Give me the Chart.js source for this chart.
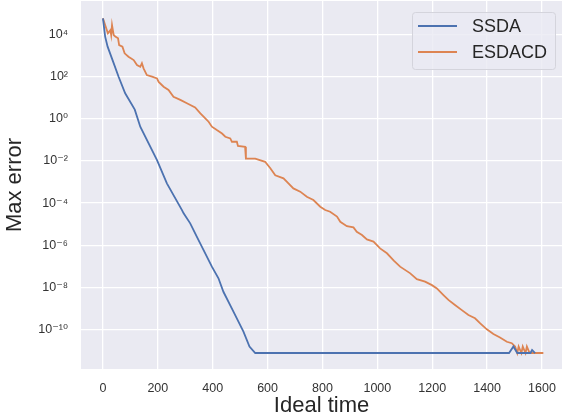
<!DOCTYPE html>
<html>
<head>
<meta charset="utf-8">
<script src="https://cdn.jsdelivr.net/npm/chart.js@4.4.0/dist/chart.umd.min.js"></script>
<style>
  html, body { margin: 0; padding: 0; background: #fff; }
  #wrap { width: 562px; height: 419px; }
</style>
</head>
<body>
<div id="wrap"><canvas id="myChart" width="562" height="419"></canvas></div>
<script>
// SSDA curve
const ssdaTime = [0, 8, 17, 39, 57, 81, 116, 136, 197, 233, 288, 294, 318, 342, 397, 421, 439, 476, 512, 534, 555,
    1480, 1496, 1510, 1558, 1564, 1575];
const ssdaErr = [5.75e4, 7.8e3, 2.6e3, 4.3e2, 98, 16, 2.7, 0.42, 1.1e-2, 8.7e-4, 4.7e-5, 3.3e-5, 1.1e-5, 2.6e-6,
    9.8e-8, 2.75e-8, 6.3e-9, 7.1e-10, 8.1e-11, 1.6e-11, 7.9e-12,
    7.9e-12, 1.6e-11, 7.9e-12, 7.9e-12, 1.1e-11, 7.9e-12];

// ESDACD curve
const esdacdTime = [0, 8, 18, 27, 30, 33, 39, 45, 55, 59, 71, 79, 93, 112, 124, 136, 142, 148, 160, 179, 197, 203,
    221, 239, 257, 282, 306, 336, 355, 373, 385, 397, 415, 434, 446, 464, 470, 488, 492, 518, 521, 555, 591, 610,
    628, 658, 676, 694, 719, 743, 767, 792, 810, 828, 853, 865, 889, 913, 925, 944, 962, 986, 1010, 1035, 1060,
    1083, 1120, 1144, 1174, 1199, 1217, 1241, 1259, 1283, 1308, 1332, 1356, 1375, 1399, 1423, 1447, 1472, 1490,
    1502, 1510, 1515, 1525, 1530, 1540, 1545, 1555, 1605];
const esdacdErr = [5.75e4, 2.75e4, 1.12e4, 1.58e4, 9.3e3, 2.75e4, 9.3e3, 7.8e3, 6.5e3, 3.1e3, 2.6e3, 1.26e3, 870,
    600, 350, 290, 430, 245, 117, 98, 81, 56, 33, 23, 11, 7.8, 5.4, 3.4, 1.8, 1.05, 0.72, 0.42, 0.29, 0.20, 0.14,
    0.117, 0.081, 0.081, 0.051, 0.047, 0.013, 0.013, 9.1e-3, 4.5e-3, 2.1e-3, 1.5e-3, 8.7e-4, 5.0e-4, 3.5e-4,
    2.0e-4, 1.4e-4, 6.8e-5, 4.7e-5, 3.9e-5, 2.3e-5, 1.3e-5, 8.1e-6, 7.1e-6, 4.4e-6, 3.1e-6, 1.9e-6, 1.5e-6,
    7.2e-7, 4.2e-7, 1.9e-7, 9.8e-8, 4.7e-8, 2.5e-8, 1.9e-8, 1.3e-8, 9.1e-9, 4.4e-9, 2.6e-9, 1.5e-9, 8.5e-10,
    5.0e-10, 3.5e-10, 2.0e-10, 1.05e-10, 6.3e-11, 4.3e-11, 2.7e-11, 2.3e-11, 1.6e-11, 7.9e-12, 1.6e-11, 7.9e-12,
    1.6e-11, 7.9e-12, 1.6e-11, 7.9e-12, 7.9e-12];

const xTicks = [0, 200, 400, 600, 800, 1000, 1200, 1400, 1600];
const yTickExps = [-10, -8, -6, -4, -2, 0, 2, 4];

const supMap = { '-': '\u207B', '0': '\u2070', '1': '\u00B9', '2': '\u00B2', '3': '\u00B3', '4': '\u2074',
    '5': '\u2075', '6': '\u2076', '7': '\u2077', '8': '\u2078', '9': '\u2079' };
function powLabel(v) {
    const e = Math.round(Math.log10(v));
    return '10' + String(e).split('').map(c => supMap[c]).join('');
}

const FONT = '"Liberation Sans", Arial, "DejaVu Sans", sans-serif';

const bgPlugin = {
    id: 'bg',
    beforeDraw(chart) {
        const a = chart.chartArea, c = chart.ctx;
        c.save();
        c.fillStyle = '#EAEAF2';
        c.fillRect(a.left, a.top, a.right - a.left, a.bottom - a.top);
        c.restore();
    }
};

const legendPlugin = {
    id: 'boxLegend',
    afterDatasetsDraw(chart) {
        const c = chart.ctx;
        c.save();
        c.beginPath();
        c.roundRect(412.5, 12.5, 143, 57, 3);
        c.fillStyle = 'rgba(234,234,242,0.8)';
        c.fill();
        c.strokeStyle = '#d4d4dc';
        c.lineWidth = 1;
        c.stroke();
        const items = [['SSDA', '#4C72B0', 26], ['ESDACD', '#DD8452', 52]];
        items.forEach(([label, color, y]) => {
            c.beginPath();
            c.moveTo(418, y);
            c.lineTo(457, y);
            c.strokeStyle = color;
            c.lineWidth = 1.8;
            c.stroke();
            c.fillStyle = '#262626';
            c.font = '18px ' + FONT;
            c.textBaseline = 'middle';
            c.fillText(label, 472, y + 1);
        });
        c.restore();
    }
};

const ctx = document.getElementById('myChart').getContext('2d');

const myChart = new Chart(ctx, {
    type: 'line',
    data: {
        datasets: [{
            label: 'SSDA',
            data: ssdaTime.map((t, i) => ({ x: t, y: ssdaErr[i] })),
            borderColor: '#4C72B0',
            borderWidth: 1.8,
            pointRadius: 0,
            tension: 0
        }, {
            label: 'ESDACD',
            data: esdacdTime.map((t, i) => ({ x: t, y: esdacdErr[i] })),
            borderColor: '#DD8452',
            borderWidth: 1.8,
            pointRadius: 0,
            tension: 0
        }]
    },
    options: {
        responsive: false,
        animation: false,
        devicePixelRatio: 1,
        layout: { padding: { top: 1, right: 0, left: 0, bottom: 0 } },
        plugins: {
            legend: { display: false },
            tooltip: { enabled: false }
        },
        scales: {
            x: {
                type: 'linear',
                min: -80,
                max: 1673,
                afterBuildTicks: s => { s.ticks = xTicks.map(v => ({ value: v })); },
                afterFit: s => { s.height = 50; s.paddingLeft = 0; s.paddingRight = 0; },
                grid: { color: '#ffffff', lineWidth: 1.3, drawTicks: false },
                border: { display: false },
                ticks: { padding: 12, color: '#333', font: { family: FONT, size: 12.5 }, maxRotation: 0,
                    callback: v => String(v) },
                title: { display: true, text: 'Ideal time', color: '#262626',
                    font: { family: FONT, size: 22 }, padding: { top: 0, bottom: 0 } }
            },
            y: {
                type: 'logarithmic',
                min: 1.38e-12,
                max: 3.8e5,
                afterBuildTicks: s => { s.ticks = yTickExps.map(e => ({ value: Math.pow(10, e) })); },
                afterFit: s => { s.width = 81; s.paddingTop = 0; s.paddingBottom = 0; },
                grid: { color: '#ffffff', lineWidth: 1.3, drawTicks: false },
                border: { display: false },
                ticks: { padding: 13, color: '#333', font: { family: FONT, size: 12.5 },
                    callback: v => powLabel(v) },
                title: { display: true, text: 'Max error', color: '#262626',
                    font: { family: FONT, size: 22 }, padding: { top: 2, bottom: 2 } }
            }
        }
    },
    plugins: [bgPlugin, legendPlugin]
});
</script>
</body>
</html>
